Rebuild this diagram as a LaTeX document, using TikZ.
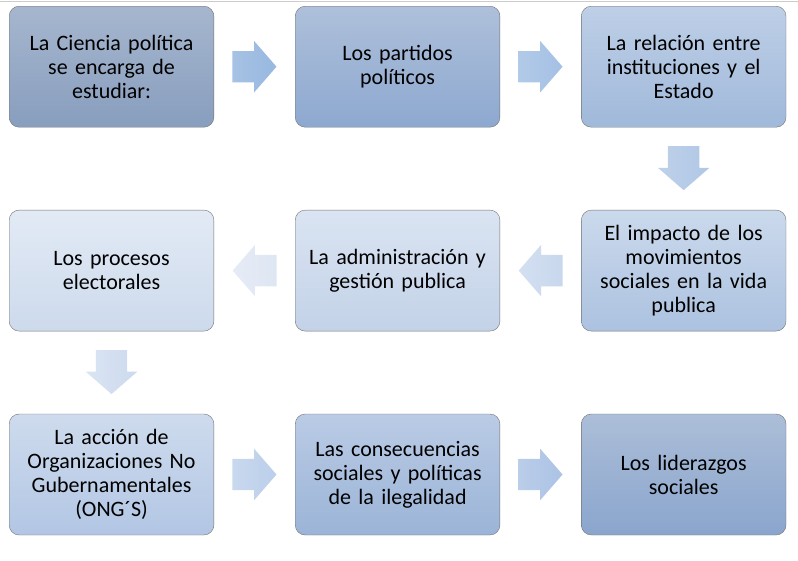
\documentclass[tikz,border=0pt]{standalone}
\usepackage{fontspec}
\setmainfont{Carlito}
\usetikzlibrary{positioning, shapes.arrows}

% box shades (top / bottom)
\definecolor{cajaAa}{RGB}{166,182,206}
\definecolor{cajaAb}{RGB}{136,158,190}
\definecolor{cajaBa}{RGB}{174,192,218}
\definecolor{cajaBb}{RGB}{141,168,208}
\definecolor{cajaCa}{RGB}{190,207,231}
\definecolor{cajaCb}{RGB}{160,185,218}
\definecolor{cajaDa}{RGB}{203,217,236}
\definecolor{cajaDb}{RGB}{172,194,224}
\definecolor{cajaEa}{RGB}{218,228,242}
\definecolor{cajaEb}{RGB}{195,210,232}
\definecolor{cajaFa}{RGB}{226,234,245}
\definecolor{cajaFb}{RGB}{205,218,236}
\definecolor{cajaGa}{RGB}{206,219,237}
\definecolor{cajaGb}{RGB}{178,198,228}
\definecolor{cajaHa}{RGB}{186,203,229}
\definecolor{cajaHb}{RGB}{155,180,215}
\definecolor{cajaIa}{RGB}{172,190,216}
\definecolor{cajaIb}{RGB}{138,165,205}
% arrow shades (tail / tip)
\definecolor{flechaAa}{RGB}{166,194,228}
\definecolor{flechaAb}{RGB}{152,184,224}
\definecolor{flechaBa}{RGB}{178,202,232}
\definecolor{flechaBb}{RGB}{164,192,228}
\definecolor{flechaCa}{RGB}{190,209,233}
\definecolor{flechaCb}{RGB}{176,199,230}
\definecolor{flechaDa}{RGB}{212,224,241}
\definecolor{flechaDb}{RGB}{200,215,237}
\definecolor{flechaEa}{RGB}{230,236,246}
\definecolor{flechaEb}{RGB}{222,230,243}
\definecolor{flechaFa}{RGB}{218,228,243}
\definecolor{flechaFb}{RGB}{204,218,238}
\definecolor{flechaGa}{RGB}{200,216,238}
\definecolor{flechaGb}{RGB}{188,207,234}
\definecolor{flechaHa}{RGB}{186,205,233}
\definecolor{flechaHb}{RGB}{172,195,229}

\begin{document}
\begin{tikzpicture}[
        node distance = 82.5pt and 81pt,
        caja/.style 2 args = {draw = black!55, thin, rounded corners = 10pt,
            minimum width = 203pt, minimum height = 121pt,
            text width = 198pt, align = center,
            top color = #1, bottom color = #2,
            font = \fontsize{22}{24}\selectfont},
        flecha/.style 2 args = {single arrow, draw = none,
            minimum height = 44pt, inner xsep = 0pt, inner ysep = 15.5pt,
            single arrow head extend = 10pt, single arrow tip angle = 98,
            left color = #1, right color = #2,
            pos = 0.225, anchor = tail, sloped, allow upside down}
    ]

    \useasboundingbox (0,0) rectangle (798pt,-560pt);
    \draw[black!20] (0,-1pt) -- (798pt,-1pt);

    % first row
    \node[caja = {cajaAa}{cajaAb}, anchor = north west] (ciencia) at (9pt,-6pt)
        {La Ciencia política\\ se encarga de\\ estudiar:};
    \node[caja = {cajaBa}{cajaBb}] (partidos) [right = of ciencia]
        {Los partidos\\ políticos};
    \node[caja = {cajaCa}{cajaCb}] (estado) [right = of partidos]
        {La relación entre\\ instituciones y el\\ Estado};

    % second row, right to left
    \node[caja = {cajaDa}{cajaDb}] (impacto) [below = of estado]
        {El impacto de los\\ movimientos\\ sociales en la vida\\ publica};
    \node[caja = {cajaEa}{cajaEb}] (gestion) [left = of impacto]
        {La administración y\\ gestión publica};
    \node[caja = {cajaFa}{cajaFb}] (procesos) [left = of gestion]
        {Los procesos\\ electorales};

    % third row
    \node[caja = {cajaGa}{cajaGb}] (ong) [below = of procesos]
        {La acción de\\ Organizaciones No\\ Gubernamentales\\ (ONG´S)};
    \node[caja = {cajaHa}{cajaHb}] (ilegal) [right = of ong]
        {Las consecuencias\\ sociales y políticas\\ de la ilegalidad};
    \node[caja = {cajaIa}{cajaIb}] (lideres) [right = of ilegal]
        {Los liderazgos\\ sociales};

    \path
        (ciencia) -- node[flecha = {flechaAa}{flechaAb}] (f1) {} (partidos)
        (partidos) -- node[flecha = {flechaBa}{flechaBb}] (f2) {} (estado)
        (estado) -- node[flecha = {flechaCa}{flechaCb}] (f3) {} (impacto)
        (impacto) -- node[flecha = {flechaDa}{flechaDb}] (f4) {} (gestion)
        (gestion) -- node[flecha = {flechaEa}{flechaEb}] (f5) {} (procesos)
        (procesos) -- node[flecha = {flechaFa}{flechaFb}] (f6) {} (ong)
        (ong) -- node[flecha = {flechaGa}{flechaGb}] (f7) {} (ilegal)
        (ilegal) -- node[flecha = {flechaHa}{flechaHb}] (f8) {} (lideres);

\end{tikzpicture}
\end{document}
